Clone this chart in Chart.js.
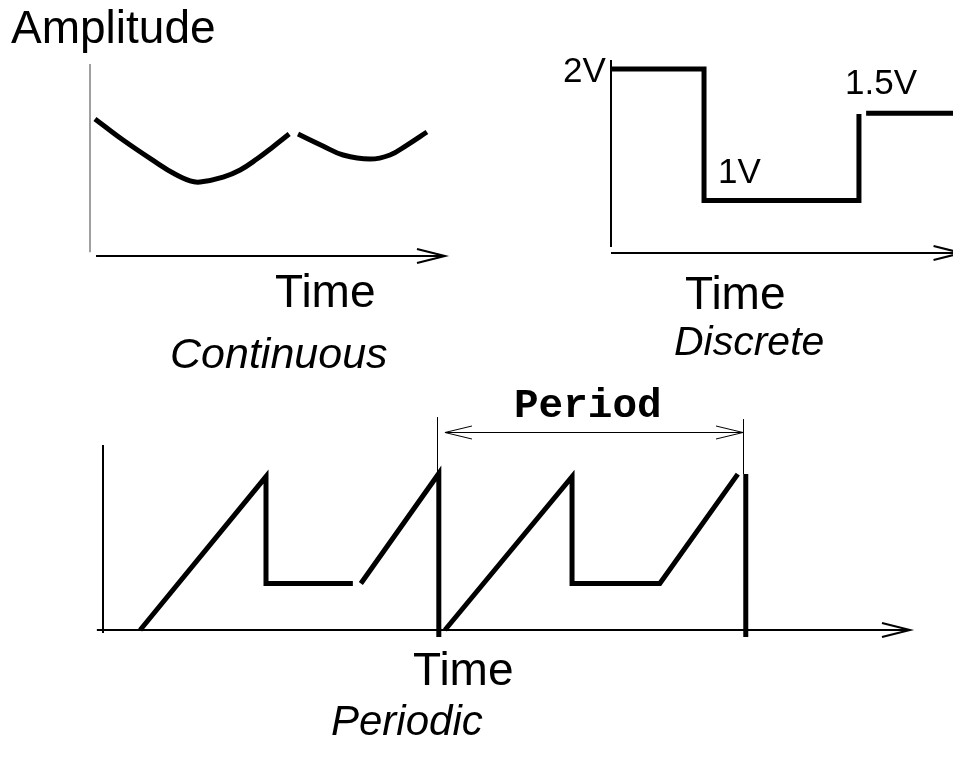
<!DOCTYPE html>
<html>
<head>
<meta charset="utf-8">
<script src="https://cdn.jsdelivr.net/npm/chart.js@4.4.0/dist/chart.umd.min.js"></script>
<style>
  html, body { margin: 0; padding: 0; background: #fff; }
  #page { position: relative; width: 953px; height: 759px; overflow: hidden;
          font-family: "Liberation Sans", Arial, Helvetica, sans-serif; color: #000; }
  #page canvas { position: absolute; left: 0; top: 0; }
  .lbl { position: absolute; white-space: nowrap; line-height: 1; }
  .it { font-style: italic; }
  .mono { font-family: "Liberation Mono", "Courier New", monospace; font-weight: bold; }
</style>
</head>
<body>
<div id="page">
  <canvas id="contChart" width="953" height="759"></canvas>
  <canvas id="discChart" width="953" height="759"></canvas>
  <canvas id="perChart" width="953" height="759"></canvas>

  <div class="lbl" style="left:11px; top:4px; font-size:46px;">Amplitude</div>
  <div class="lbl" style="left:275px; top:268px; font-size:46px;">Time</div>
  <div class="lbl it" style="left:170px; top:332px; font-size:43px;">Continuous</div>

  <div class="lbl" style="left:563px; top:52px; font-size:35px;">2V</div>
  <div class="lbl" style="left:718px; top:153px; font-size:35px;">1V</div>
  <div class="lbl" style="left:845px; top:64px; font-size:35px;">1.5V</div>
  <div class="lbl" style="left:685px; top:270px; font-size:46px;">Time</div>
  <div class="lbl it" style="left:674px; top:321px; font-size:41px;">Discrete</div>

  <div class="lbl mono" style="left:514px; top:386px; font-size:41px;">Period</div>
  <div class="lbl" style="left:413px; top:646px; font-size:46px;">Time</div>
  <div class="lbl it" style="left:331px; top:700px; font-size:42px;">Periodic</div>
</div>

<script>
// continuous signal, two strokes (time, amplitude)
var contTimeA = [0.14, 0.93, 1.89, 2.34, 2.82, 3.10, 3.75, 4.23, 4.70, 5.15, 5.61];
var contAmpA  = [7.14, 6.04, 4.84, 4.32, 3.91, 3.85, 4.11, 4.48, 5.05, 5.68, 6.35];
var contTimeB = [5.86, 6.56, 7.13, 7.89, 8.45, 8.93, 9.49];
var contAmpB  = [6.35, 5.73, 5.26, 5.05, 5.26, 5.78, 6.46];

// discrete steps (time, volts) - null breaks the stroke
var discTime  = [0, 2.72, 2.72, 7.25, 7.25, 7.36, 7.46, 10];
var discVolts = [2.0, 2.0, 0.57, 0.57, 1.51, null, 1.52, 1.52];

// periodic wave (time in periods, amplitude)
var perTime = [0.121, 0.531, 0.531, 0.814, 0.827, 0.840, 1.094, 1.094, 1.104,
               1.114, 1.528, 1.528, 1.814, 2.068, 2.081, 2.094, 2.094];
var perAmp  = [0, 0.99, 0.30, 0.30, null, 0.30, 1.01, -0.045, null,
               0, 0.99, 0.30, 0.30, 1.006, null, 1.006, -0.045];

function pts(xs, ys) {
  return xs.map(function(x, i) { return { x: x, y: ys[i] }; });
}

// draws sketch style axes / dimension lines given in data units
var sketchLines = {
  id: 'sketchLines',
  beforeDatasetsDraw: function(chart, args, opts) {
    var ctx = chart.ctx, xs = chart.scales.x, ys = chart.scales.y;
    function head(tx, ty, fx, fy, len, half) {
      var a = Math.atan2(ty - fy, tx - fx);
      ctx.beginPath();
      ctx.moveTo(tx - len * Math.cos(a) - half * Math.sin(a), ty - len * Math.sin(a) + half * Math.cos(a));
      ctx.lineTo(tx, ty);
      ctx.lineTo(tx - len * Math.cos(a) + half * Math.sin(a), ty - len * Math.sin(a) - half * Math.cos(a));
      ctx.stroke();
    }
    (opts.lines || []).forEach(function(l) {
      var w = l.width || 2;
      var snap = function(v) { return w === 1 ? Math.round(v) + 0.5 : v; };
      var x1 = xs.getPixelForValue(l.from[0]), y1 = ys.getPixelForValue(l.from[1]);
      var x2 = xs.getPixelForValue(l.to[0]), y2 = ys.getPixelForValue(l.to[1]);
      if (x1 === x2) { x1 = x2 = snap(x1); }
      if (y1 === y2) { y1 = y2 = snap(y1); }
      ctx.save();
      ctx.strokeStyle = l.color || '#000';
      ctx.lineWidth = w;
      ctx.lineCap = 'butt';
      ctx.beginPath();
      ctx.moveTo(x1, y1);
      ctx.lineTo(x2, y2);
      ctx.stroke();
      if (l.headEnd) head(x2, y2, x1, y1, l.headLen || 28, l.headHalf || 7);
      if (l.headStart) head(x1, y1, x2, y2, l.headLen || 28, l.headHalf || 7);
      ctx.restore();
    });
  }
};

function makeChart(id, datasets, pad, x, y, lines) {
  var ctx = document.getElementById(id).getContext('2d');
  return new Chart(ctx, {
    type: 'line',
    data: { datasets: datasets },
    options: {
      responsive: false,
      animation: false,
      devicePixelRatio: 1,
      events: [],
      layout: { padding: pad },
      plugins: {
        legend: { display: false },
        tooltip: { enabled: false },
        sketchLines: { lines: lines }
      },
      scales: {
        x: { type: 'linear', min: x[0], max: x[1], display: false },
        y: { type: 'linear', min: y[0], max: y[1], display: false }
      }
    },
    plugins: [sketchLines]
  });
}

var stroke = { borderColor: '#000', pointRadius: 0, fill: false, clip: false, spanGaps: false };

makeChart('contChart', [
    Object.assign({}, stroke, { data: pts(contTimeA, contAmpA), borderWidth: 5, tension: 0.4 }),
    Object.assign({}, stroke, { data: pts(contTimeB, contAmpB), borderWidth: 5, tension: 0.4 })
  ],
  { left: 90, top: 64, right: 953 - 445, bottom: 759 - 256 },
  [0, 10], [0, 10],
  [
    { from: [0, 0.2], to: [0, 10], color: '#808080', width: 1.5 },
    { from: [0.17, 0], to: [10, 0], width: 2, headEnd: true }
  ]);

makeChart('discChart', [
    Object.assign({}, stroke, { data: pts(discTime, discVolts), borderWidth: 5 })
  ],
  { left: 611, top: 60, right: 0, bottom: 759 - 253 },
  [0, 10], [0, 2.098],
  [
    { from: [0, 0.065], to: [0, 2.098], width: 2 },
    { from: [0, 0], to: [10.25, 0], width: 2, headEnd: true }
  ]);

makeChart('perChart', [
    Object.assign({}, stroke, { data: pts(perTime, perAmp), borderWidth: 5 })
  ],
  { left: 103, top: 400, right: 953 - 910, bottom: 759 - 630 },
  [0, 2.629], [0, 1.484],
  [
    { from: [0, -0.02], to: [0, 1.194], width: 2 },
    { from: [-0.02, 0], to: [2.629, 0], width: 2, headEnd: true },
    { from: [1.088, 1.013], to: [1.088, 1.374], width: 1 },
    { from: [2.085, 1.006], to: [2.085, 1.361], width: 1 },
    { from: [1.114, 1.277], to: [2.085, 1.277], width: 1, headStart: true, headEnd: true, headLen: 27, headHalf: 6.5 }
  ]);
</script>
</body>
</html>
